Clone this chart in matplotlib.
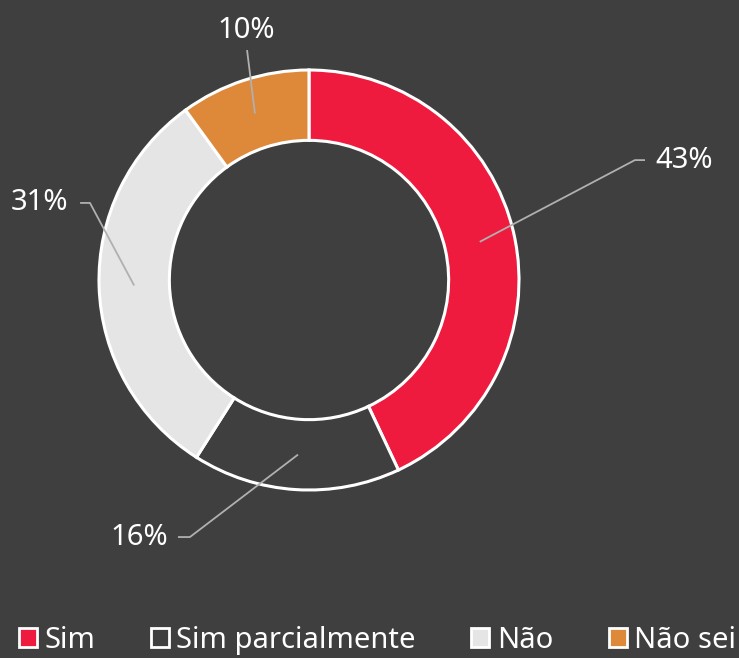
import numpy as np
import matplotlib.pyplot as plt
from matplotlib.patches import Patch

plt.rcParams['font.family'] = ['Noto Sans', 'DejaVu Sans']

labels = ["Sim", "Sim parcialmente", "Não", "Não sei"]
values = [43, 16, 31, 10]
colors = ["#ee1b3e", "#3f3f3f", "#e5e5e5", "#de883a"]
bg = "#3f3f3f"

fig = plt.figure(figsize=(7.39, 6.58), dpi=100, facecolor=bg)
ax = fig.add_axes([0, 0, 1, 1])
ax.set_facecolor(bg)

wedges, _ = ax.pie(values, colors=colors, startangle=90, counterclock=False,
                   radius=1.0,
                   wedgeprops=dict(width=0.335, edgecolor="white", linewidth=2.2))

# centre at (309, 280) px, 210 px per unit
s = 210.0
ax.set_xlim(-309 / s, (739 - 309) / s)
ax.set_ylim(-(658 - 280) / s, 280 / s)
ax.set_aspect('auto')
ax.axis('off')

# leader lines: elbow, end of short tick, text x, text y, alignment
label_pos = [
    ((1.552, 0.571), (1.600, 0.571), 1.65, 0.571, 'left'),
    ((-0.567, -1.224), (-0.624, -1.224), -0.671, -1.224, 'right'),
    ((-1.043, 0.367), (-1.090, 0.367), -1.148, 0.367, 'right'),
    ((-0.295, 1.095), None, -0.30, 1.19, 'center'),
]

start = 90.0
total = sum(values)
for v, (elbow, tick, tx, ty, ha) in zip(values, label_pos):
    ang = start - v / total * 360 / 2
    start -= v / total * 360
    r = 0.833
    xs = [r * np.cos(np.radians(ang)), elbow[0]]
    ys = [r * np.sin(np.radians(ang)), elbow[1]]
    if tick is not None:
        xs.append(tick[0])
        ys.append(tick[1])
    ax.plot(xs, ys, color="#b0b0b0", lw=1.3, solid_capstyle='butt')
    ax.text(tx, ty, f"{v}%", color="white", fontsize=21, fontweight='light',
            ha=ha, va='center')

handles = [Patch(facecolor=c, edgecolor="white", linewidth=2) for c in colors]
leg = fig.legend(handles, labels, loc='lower center', bbox_to_anchor=(0.511, -0.035),
                 ncol=4, frameon=False, labelcolor="white",
                 prop=dict(size=21, weight='light'),
                 handlelength=0.62, handleheight=0.62, handletextpad=0.25,
                 columnspacing=1.9)

fig.savefig("out.png", dpi=100, facecolor=bg)
